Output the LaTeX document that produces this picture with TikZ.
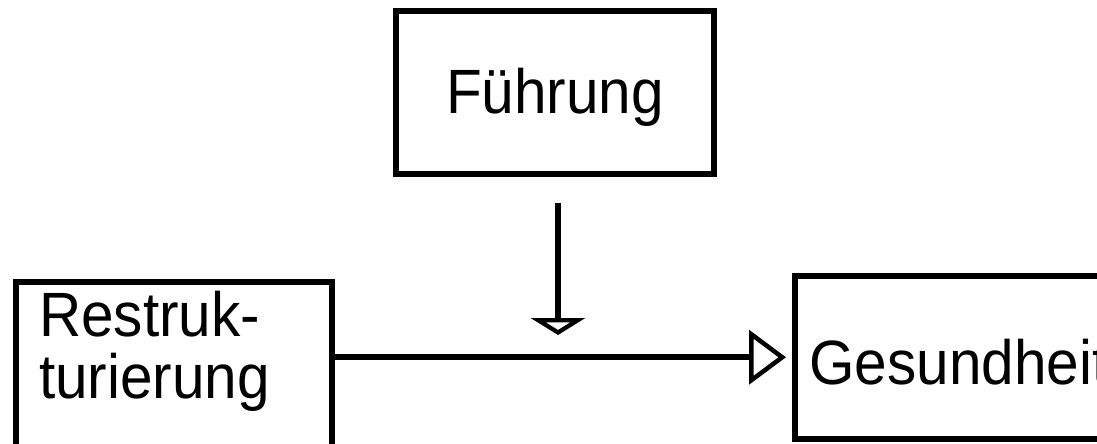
\documentclass[tikz,border=0pt]{standalone}
\usepackage{graphicx}
\usepackage{fontspec}
\setmainfont{Liberation Sans}
\usetikzlibrary{arrows.meta}
% labels are set slightly taller than the font's own proportions
\newcommand{\tallface}[1]{\scalebox{1}[1.07]{#1}}
\begin{document}
\begin{tikzpicture}[x=1pt,y=-1pt,
  box/.style={draw=black, line width=6pt, fill=white, inner sep=0pt},
  lbl/.style={inner sep=0pt, font=\fontsize{58.5}{49.5}\selectfont},
  link/.style={draw=black, line width=6pt},
  opentip/.style={-{Triangle[open, length=#1, width=54pt, line width=4.5pt]}}]
\useasboundingbox (0,0) rectangle (1097,444);
\clip (0,0) rectangle (1097,444);

% the three boxes (the lower two run past the frame)
\node[box, minimum width=318pt, minimum height=163pt,
      font=\fontsize{58.5}{49.5}\selectfont, text height=46pt, text depth=5pt]
      (fuehrung) at (555,92.5) {\tallface{Führung}};
\node[box, minimum width=316pt, minimum height=198pt] (restruk) at (174,381) {};
\node[box, minimum width=355pt, minimum height=163.5pt] (ges) at (972.5,357.25) {};

% box texts
\node[lbl, anchor=base west] (restrukText) at (39,398)
  {\tallface{\begin{tabular}[b]{@{}l@{}}Restruk-\\turierung\end{tabular}}};
\node[lbl, anchor=base west] (gesText) at (809,384) {\tallface{Gesundheit}};

% main effect arrow
\draw[link, opentip=37pt, shorten >=6pt] (restruk.east |- ges.west) -- (ges.west);

% moderating arrow from above
\coordinate (drop) at (558,203);
\coordinate (hit) at (558,335);
\draw[link, opentip=17pt] (drop) -- (hit);
\end{tikzpicture}
\end{document}
